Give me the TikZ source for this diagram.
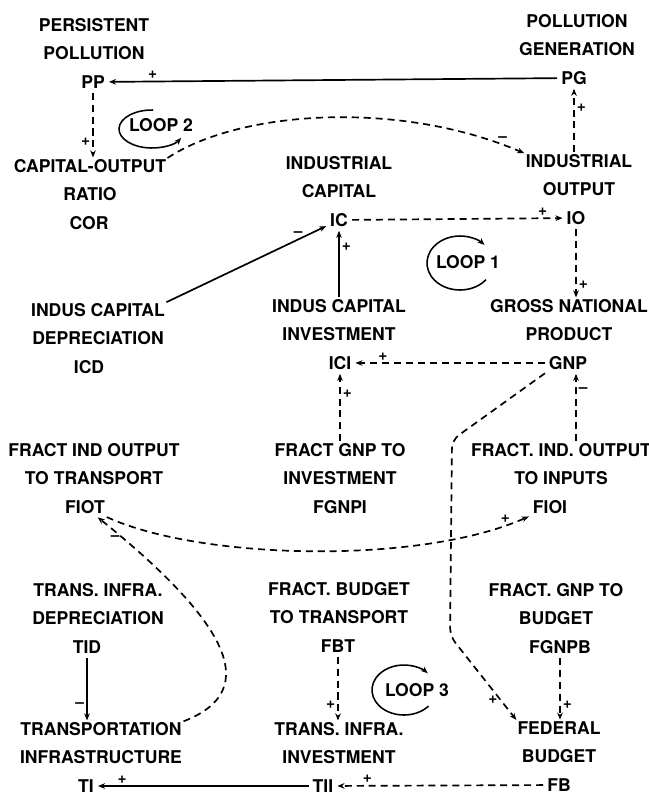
\documentclass[tikz,border=0pt]{standalone}
\usepackage{fontspec}
\setmainfont{TeX Gyre Heros}
\usetikzlibrary{arrows.meta,calc}

\newcommand\varfont{\bfseries\fontsize{12.5}{20.2}\selectfont}
\newcommand\signfont{\bfseries\fontsize{11}{11}\selectfont}

\tikzset{
	var/.style={inner sep=0pt, outer sep=2pt, font=\varfont},
	vartitle/.style={inner sep=0pt, align=center, anchor=south, font=\varfont},
	sign/.style={inner sep=1.5pt, font=\signfont},
	link/.style={-{Stealth[length=5pt,width=4pt]}, line width=1.2pt, shorten >=1pt, shorten <=1pt},
	delay/.style={link, dash pattern=on 5pt off 3.5pt},
	loopring/.style={-{Stealth[length=5pt,width=4pt]}, line width=1.1pt}
}

\begin{document}
\begin{tikzpicture}[x=0.025cm, y=-0.025cm]
		\useasboundingbox (0,0) rectangle (649,797);
		
		% variables: name / x / y / x of title / title
		\foreach \n/\x/\y/\tx/\t in {
			PP/93/82/94/{PERSISTENT\\POLLUTION},
			PG/574/78/577/{POLLUTION\\GENERATION},
			COR/89/223/90/{CAPITAL-OUTPUT\\RATIO},
			IC/339/220/339/{INDUSTRIAL\\CAPITAL},
			IO/576/218/579/{INDUSTRIAL\\OUTPUT},
			ICD/89/367/98/{INDUS CAPITAL\\DEPRECIATION},
			ICI/340/363/339/{INDUS CAPITAL\\INVESTMENT},
			GNP/568/363/569/{GROSS NATIONAL\\PRODUCT},
			FIOT/85/507/94/{FRACT IND OUTPUT\\TO TRANSPORT},
			FGNPI/340/507/340/{FRACT GNP TO\\INVESTMENT},
			FIOI/550/507/561/{FRACT. IND. OUTPUT\\TO INPUTS},
			TID/87/647/98/{TRANS. INFRA.\\DEPRECIATION},
			FBT/338/646/339/{FRACT. BUDGET\\TO TRANSPORT},
			FGNPB/560/647/556/{FRACT. GNP TO\\BUDGET},
			TI/86/786/101/{TRANSPORTATION\\INFRASTRUCTURE},
			TII/323/786/339/{TRANS. INFRA.\\INVESTMENT},
			FB/559/785/559/{FEDERAL\\BUDGET}}
		{
			\node[var] (\n) at (\x,\y) {\n};
			\node[vartitle] (\n-t) at (\tx,\y-22) {\t};
		}
		
		% pollution loop
		\draw[link] (PG) -- node[sign, pos=0.9, above]{+} (PP);
		\draw[delay] (IO-t.north -| PG) -- node[sign, pos=0.7, right]{+} (PG);
		\draw[delay] (PP) -- node[sign, pos=0.75, left]{+} (PP |- COR-t.north);
		\draw[delay] (COR-t.north east) .. controls (240,110) and (400,100) .. node[sign, pos=0.94, above]{–} (IO-t.north west);
		
		% capital loop
		\draw[delay] (IC) -- node[sign, pos=0.9, above]{+} (IO);
		\draw[link] (ICD-t.north east) -- node[sign, pos=0.82, above]{–} (IC);
		\draw[link] (ICI-t.north -| IC) -- node[sign, pos=0.75, right]{+} (IC);
		\draw[delay] (GNP) -- node[sign, pos=0.85, above]{+} (ICI);
		\draw[delay] (FGNPI-t.north -| ICI) -- node[sign, pos=0.7, right]{+} (ICI);
		\draw[delay] (IO) -- node[sign, pos=0.8, right]{+} (IO |- GNP-t.north);
		\draw[delay] (FIOI-t.north -| IO) -- node[sign, pos=0.75, right]{–} (IO |- GNP.south);
		\draw[delay] (FIOT) .. controls (200,560) and (420,565) .. node[sign, pos=0.93, above]{+} (FIOI);
		
		% transport loop
		\draw[delay, rounded corners=6pt] (GNP.south west) -- (452,440) -- (450,636) -- node[sign, pos=0.75, left]{+} (FB-t.north west);
		\draw[delay] (TI-t.north east) .. controls (265,690) and (225,620) .. node[sign, pos=0.93, left]{–} (FIOT);
		\draw[link] (TID) -- node[sign, pos=0.75, left]{–} (TID |- TI-t.north);
		\draw[link] (TII) -- node[sign, pos=0.88, above]{+} (TI);
		\draw[delay] (FBT) -- node[sign, pos=0.75, left]{+} (FBT |- TII-t.north);
		\draw[delay] (FB) -- node[sign, pos=0.85, above]{+} (TII);
		\draw[delay] (FGNPB) -- node[sign, pos=0.75, right]{+} (FGNPB |- FB-t.north);
		
		% loop markers
		\node[var] (loop1) at (468,262) {LOOP 1};
		\draw[loopring] ($(460,263)+(38:33 and 27)$) arc[start angle=38, end angle=318, x radius=33, y radius=27];
		\node[var] (loop2) at (161,125) {LOOP 2};
		\draw[loopring] ($(152,129)+(272:33 and 19)$) arc[start angle=272, end angle=28, x radius=33, y radius=19];
		\node[var] (loop3) at (417,690) {LOOP 3};
		\draw[loopring] ($(404,690)+(40:32 and 25)$) arc[start angle=40, end angle=318, x radius=32, y radius=25];
		\end{tikzpicture}
\end{document}
